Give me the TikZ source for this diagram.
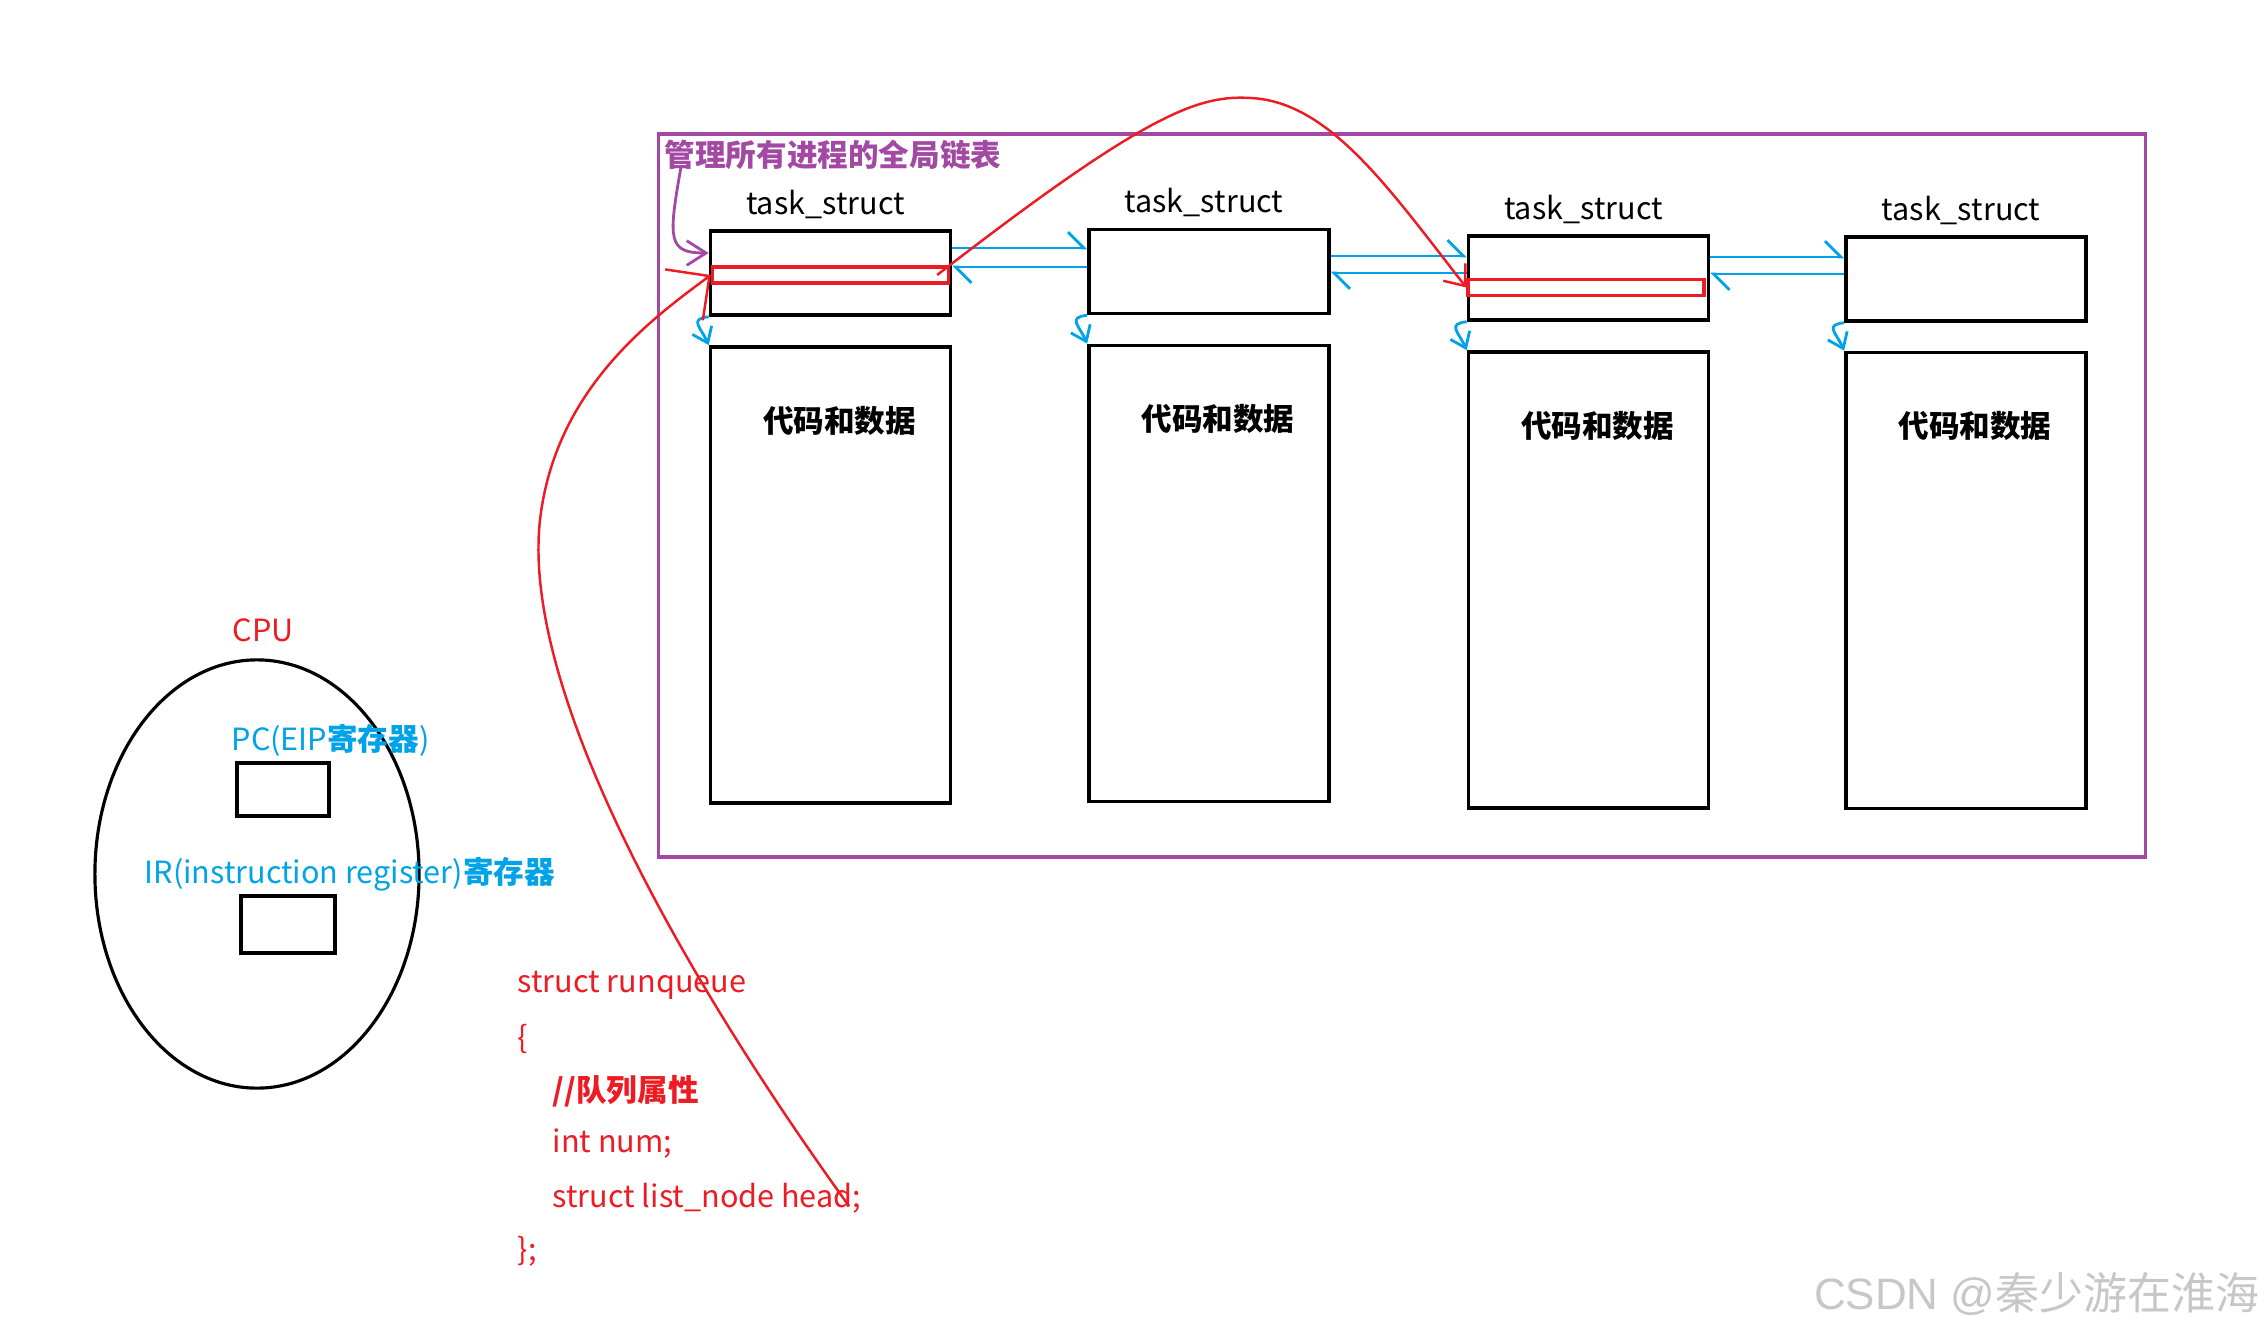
\documentclass[tikz,border=0pt]{standalone}
\usepackage{fontspec}
\setmainfont{Noto Sans CJK SC}
\newfontfamily\markfont{Liberation Sans}
\usetikzlibrary{arrows.meta,positioning,shapes.geometric}
\definecolor{pred}{HTML}{ED1C24}
\definecolor{pblue}{HTML}{00A2E8}
\definecolor{ppurple}{HTML}{A349A4}

\begin{document}
\begin{tikzpicture}[x=0.01cm, y=-0.01cm,
        % texto base
            every node/.style={font=\fontsize{8.7pt}{10pt}\selectfont, inner sep=0pt},
        % caixas dos task_struct
            box/.style={rectangle, draw, line width=1pt, minimum width=24mm},
            topbox/.style={box, minimum height=8.4mm},
            databox/.style={box, minimum height=45.6mm},
            listrect/.style={rectangle, draw=pred, line width=0.9pt, minimum width=23.6mm, minimum height=1.6mm},
            reg/.style={rectangle, draw, line width=1pt},
            link/.style={pblue, line width=0.8pt, -{Straight Barb[left, length=4.5pt, width=9pt]}},
            datalink/.style={pblue, line width=0.8pt, -{Straight Barb[length=4pt, width=6pt]}},
            redline/.style={pred, line width=0.7pt},
            code/.style={anchor=west, text=pred}
        ]
            \useasboundingbox (0,0) rectangle (2265,1333);

            % --- LISTA GLOBAL ---
            \node[draw=ppurple, line width=1pt, minimum width=148.6mm, minimum height=72.3mm] (all) at (1402,495.5) {};
            \node[anchor=west, text=ppurple] (alltitle) at (664,155) {\bfseries 管理所有进程的全局链表};

            \node[topbox] (t1) at (830.5,273) {};
            \node[topbox] (t2) at (1209,271.5) {};
            \node[topbox] (t3) at (1588.5,278) {};
            \node[topbox] (t4) at (1966,279) {};

            \node[above=1mm of t1, xshift=-0.5mm] (n1) {task\_struct};
            \node[above=1mm of t2, xshift=-0.5mm] (n2) {task\_struct};
            \node[above=1mm of t3, xshift=-0.5mm] (n3) {task\_struct};
            \node[above=1mm of t4, xshift=-0.5mm] (n4) {task\_struct};

            \node[databox] (d1) at (830.5,575) {};
            \node[databox] (d2) at (1209,573.5) {};
            \node[databox] (d3) at (1588.5,580) {};
            \node[databox] (d4) at (1966,580.5) {};

            \node[below=6mm of d1.north, xshift=0.9mm] (c1) {\bfseries 代码和数据};
            \node[below=6mm of d2.north, xshift=0.9mm] (c2) {\bfseries 代码和数据};
            \node[below=6mm of d3.north, xshift=0.9mm] (c3) {\bfseries 代码和数据};
            \node[below=6mm of d4.north, xshift=0.9mm] (c4) {\bfseries 代码和数据};

            \node[listrect] (r1) at (830.5,275) {};
            \node[listrect] (r3) at (1586,287.5) {};

            % --- LIGAÇÕES AZUIS ---
            \draw[link] (t1.east |- 0,248) -- (t2.west |- 0,248);
            \draw[link] (t2.west |- 0,267) -- (t1.east |- 0,267);
            \draw[link] (t2.east |- 0,256) -- (t3.west |- 0,256);
            \draw[link] (t3.west |- 0,273) -- (t2.east |- 0,273);
            \draw[link] (t3.east |- 0,257) -- (t4.west |- 0,257);
            \draw[link] (t4.west |- 0,274) -- (t3.east |- 0,274);

            \draw[datalink] (t1.south west) .. controls +(-20,2) and +(-8,-18) .. (d1.north west);
            \draw[datalink] (t2.south west) .. controls +(-20,2) and +(-8,-18) .. (d2.north west);
            \draw[datalink] (t3.south west) .. controls +(-20,2) and +(-8,-18) .. (d3.north west);
            \draw[datalink] (t4.south west) .. controls +(-20,2) and +(-8,-18) .. (d4.north west);

            \coordinate (titlefoot) at (681,167);
            \draw[ppurple, line width=0.8pt, -{Straight Barb[length=5.5pt, width=7pt]}] (titlefoot) .. controls (668,240) and (668,253) .. (t1.west |- 0,253);

            % --- CPU ---
            \node[ellipse, draw, line width=0.9pt, minimum width=32.4mm, minimum height=42.8mm] (cpu) at (257,874) {};
            \node[text=pred] (cpulabel) at (263,630) {CPU};
            \node[reg, minimum width=9.2mm, minimum height=5.3mm] (pc) at (283,789.5) {};
            \node[anchor=west, text=pblue] (pclabel) at (231,740) {PC(EIP\textbf{寄存器})};
            \node[reg, minimum width=9.4mm, minimum height=5.7mm] (ir) at (288,924.5) {};
            \node[anchor=west, text=pblue] (irlabel) at (144,874) {IR(instruction register)\textbf{寄存器}};

            % --- RUNQUEUE ---
            \node[code] (q1) at (517,985) {struct runqueue};
            \node[code] (q2) at (517,1039) {\{};
            \node[code] (q3) at (552,1091) {\bfseries //队列属性};
            \node[code] (q4) at (552,1144) {int num;};
            \node[code] (q5) at (552,1198) {struct list\_node head;};
            \node[code] (q6) at (517,1251) {\};};

            % --- SETAS VERMELHAS ---
            \coordinate (headend) at (849,1206);
            \draw[redline, -{Straight Barb[length=9pt, width=18pt]}] (headend) .. controls (700,1000) and (520,700) .. (540,520) .. controls (555,390) and (650,320) .. (r1.west);
            \draw[redline, -{Straight Barb[length=5pt, width=8pt]}] ([xshift=-1.3mm]r1.east) .. controls (1150,110) and (1200,95) .. (1251,98) .. controls (1330,102) and (1390,190) .. (r3.west);

            \node[anchor=east, text=black!22, font=\fontsize{12.5pt}{15pt}\selectfont] (mark) at (2260,1294) {{\markfont CSDN @}秦少游在淮海};
        \end{tikzpicture}
\end{document}
